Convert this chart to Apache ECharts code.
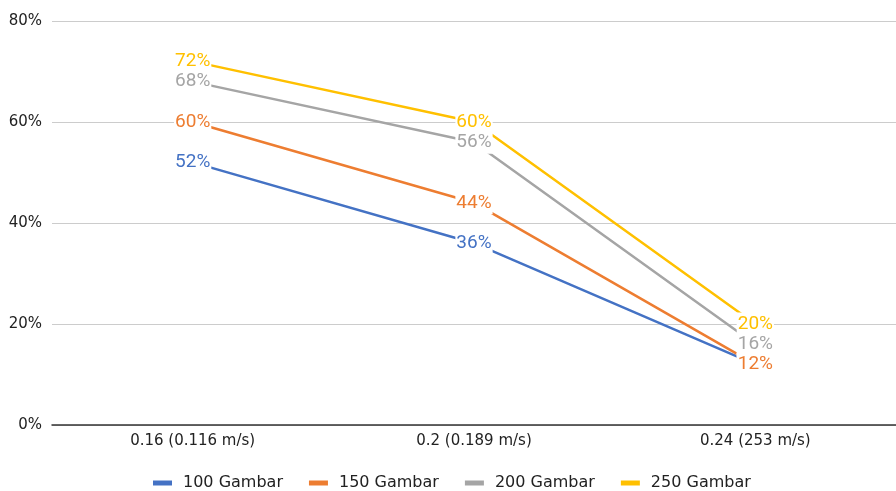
<!DOCTYPE html>
<html><head><meta charset="utf-8">
<script src="https://cdn.jsdelivr.net/npm/echarts@6/dist/echarts.min.js"></script>
<style>html,body{margin:0;padding:0;background:#fff}#c{width:896px;height:491px}</style>
</head><body><div id="c"></div>
<script>
const categories = ['0.16 (0.116 m/s)', '0.2 (0.189 m/s)', '0.24 (253 m/s)'];
const seriesNames = ['100 Gambar', '150 Gambar', '200 Gambar', '250 Gambar'];
const s100 = [52, 36, 12];
const s150 = [60, 44, 12];
const s200 = [68, 56, 16];
const s250 = [72, 60, 20];
const colors = ['#4472c4', '#ed7d31', '#a5a5a5', '#ffc000'];
const values = [s100, s150, s200, s250];

const chart = echarts.init(document.getElementById('c'));
chart.setOption({
  animation: false,
  color: colors,
  grid: {left: 52, right: 0, top: 21, bottom: 66},
  legend: {
    top: 475, left: 153, padding: 0, itemWidth: 19, itemHeight: 5, itemGap: 26,
    icon: 'rect',
    textStyle: {fontFamily: 'DejaVu Sans', fontSize: 16, color: '#222', padding: [0, 0, 0, 6]},
    data: seriesNames
  },
  xAxis: {
    type: 'category', data: categories, boundaryGap: true,
    axisLine: {lineStyle: {color: '#333', width: 1.5}},
    axisTick: {show: false},
    axisLabel: {fontFamily: 'DejaVu Sans', fontSize: 15, color: '#222', margin: 9}
  },
  yAxis: {
    type: 'value', min: 0, max: 80, interval: 20,
    axisLine: {show: false}, axisTick: {show: false},
    splitLine: {lineStyle: {color: '#ccc'}},
    axisLabel: {formatter: '{value}%', fontFamily: 'DejaVu Sans', fontSize: 15, color: '#222', margin: 10}
  },
  series: seriesNames.map((n, i) => ({
    name: n, type: 'line', data: values[i],
    showSymbol: true, symbol: 'circle', symbolSize: 0,
    itemStyle: {color: colors[i]},
    lineStyle: {width: 2.5, color: colors[i]},
    label: {
      show: true, position: 'inside', formatter: '{c}%',
      color: colors[i], fontFamily: 'Roboto', fontSize: 19,
      backgroundColor: '#fff', padding: [4, 1, 0, 1]
    },
    labelLayout: {hideOverlap: false}
  }))
});
</script></body></html>
